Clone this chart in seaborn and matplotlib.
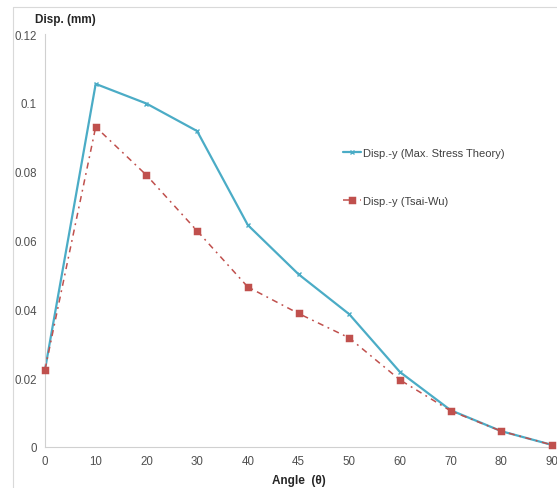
import pandas as pd
import matplotlib
matplotlib.use("Agg")
import matplotlib.pyplot as plt
from matplotlib.lines import Line2D
import seaborn as sns

# valeurs
angles = ["0", "10", "20", "30", "40", "45", "50", "60", "70", "80", "90"]
disp_max_stress = [0.0225, 0.1055, 0.0998, 0.0918, 0.0645, 0.0502, 0.0386, 0.0218, 0.0107, 0.0046, 0.0006]
disp_tsai_wu = [0.0225, 0.0930, 0.0790, 0.0628, 0.0465, 0.0388, 0.0317, 0.0195, 0.0105, 0.0046, 0.0006]
labels = ["Disp.-y (Max. Stress Theory)", "Disp.-y (Tsai-Wu)"]
y_ticks = [0, 0.02, 0.04, 0.06, 0.08, 0.1, 0.12]
y_tick_labels = ["0", "0.02", "0.04", "0.06", "0.08", "0.1", "0.12"]

df = pd.DataFrame({
    "angle": angles * 2,
    "disp": disp_max_stress + disp_tsai_wu,
    "serie": [labels[0]] * len(angles) + [labels[1]] * len(angles),
})

sns.set_style("white")
plt.rcParams["font.family"] = ["Liberation Sans", "DejaVu Sans"]

fig = plt.figure(figsize=(5.57, 4.89), dpi=100)
ax = fig.add_axes([45 / 557, 1 - 448 / 489, (552 - 45) / 557, (448 - 35) / 489])

palette = {labels[0]: "#4BACC6", labels[1]: "#C0504D"}
sns.pointplot(data=df, x="angle", y="disp", hue="serie", order=angles,
              hue_order=labels, palette=palette, markers=["x", "s"],
              linestyles=["-", "-."], errorbar=None, ax=ax,
              markersize=4, linewidth=1.4)

for ln in ax.lines:
    ln.set_clip_on(False)
    if ln.get_marker() == "x":
        ln.set_markersize(3)
        ln.set_markeredgewidth(1)
        ln.set_linewidth(1.6)
    else:
        ln.set_markersize(4.2)
        ln.set_linewidth(1.1)
        ln.set_dashes((4, 3, 1.2, 3))
        ln.set_zorder(3)

ax.set_xlim(0, len(angles) - 1)
ax.set_ylim(0, 0.12)
ax.set_yticks(y_ticks)
ax.set_yticklabels(y_tick_labels)
ax.set_xlabel("Angle  (θ)", fontsize=8.5, fontweight="bold", labelpad=5)
ax.set_ylabel("")
ax.tick_params(axis="both", labelsize=8.3, colors="#BFBFBF", labelcolor="#505050",
               length=3, width=0.8, direction="out", pad=3)

for side in ["top", "right"]:
    ax.spines[side].set_visible(False)
for side in ["left", "bottom"]:
    ax.spines[side].set_color("#D0D0D0")
    ax.spines[side].set_linewidth(0.8)

fig.text(35 / 557, 1 - 20 / 489, "Disp. (mm)", fontsize=8.5, fontweight="bold",
         va="center", ha="left")

# cadre extérieur
fig.add_artist(Line2D([13 / 557, 13 / 557], [0, 1 - 8 / 489], color="#D9D9D9", lw=0.8))
fig.add_artist(Line2D([13 / 557, 1], [1 - 8 / 489, 1 - 8 / 489], color="#D9D9D9", lw=0.8))

handles, lbls = ax.get_legend_handles_labels()
leg = ax.legend(handles, lbls, loc="upper left", bbox_to_anchor=(343 / 557, 1 - 149 / 489),
                bbox_transform=fig.transFigure, frameon=False, fontsize=8,
                handlelength=1.6, handletextpad=0.2, labelspacing=3.4,
                borderpad=0, borderaxespad=0)
for t in leg.get_texts():
    t.set_color("#404040")

fig.savefig("out.png", dpi=100)
